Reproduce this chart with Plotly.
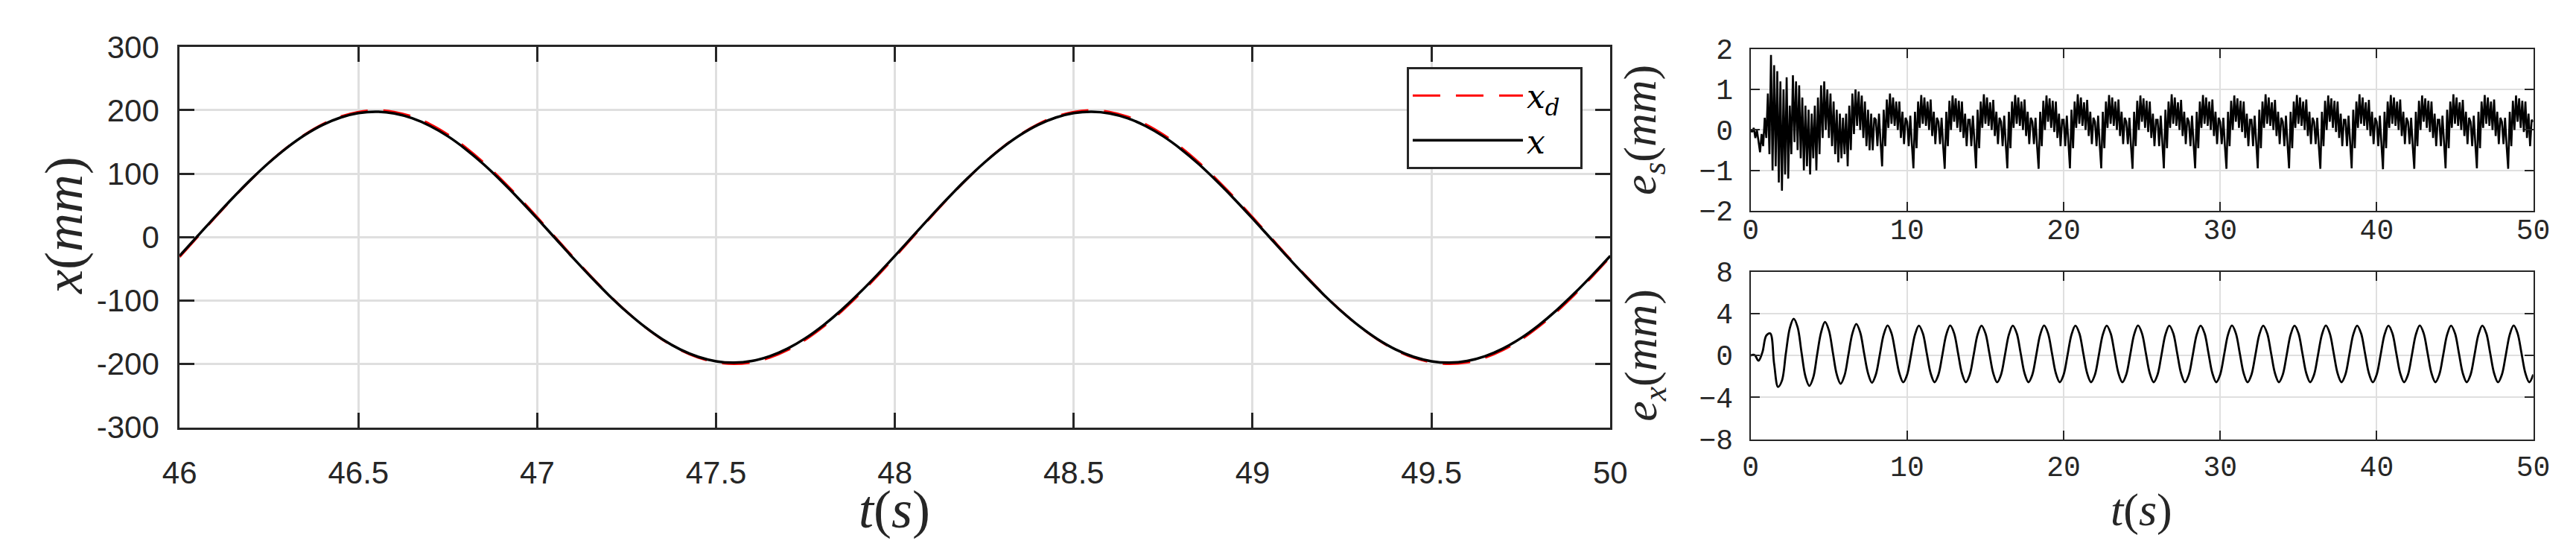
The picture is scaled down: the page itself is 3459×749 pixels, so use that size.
import plotly.graph_objects as go

# ---------------- data ----------------
# main panel: samples every 0.05 s from t = 46 s to t = 50 s
main_t0 = 46.0
main_dt = 0.05
xd_vals = [
    -31.3, 0.0, 31.3, 61.8, 90.8, 117.6, 141.4, 161.8, 178.2, 190.2, 197.5, 200.0, 197.5, 190.2,
    178.2, 161.8, 141.4, 117.6, 90.8, 61.8, 31.3, 0.0, -31.3, -61.8, -90.8, -117.6, -141.4, -161.8,
    -178.2, -190.2, -197.5, -200.0, -197.5, -190.2, -178.2, -161.8, -141.4, -117.6, -90.8, -61.8, -31.3,
    0.0, 31.3, 61.8, 90.8, 117.6, 141.4, 161.8, 178.2, 190.2, 197.5, 200.0, 197.5, 190.2,
    178.2, 161.8, 141.4, 117.6, 90.8, 61.8, 31.3, 0.0, -31.3, -61.8, -90.8, -117.6, -141.4, -161.8,
    -178.2, -190.2, -197.5, -200.0, -197.5, -190.2, -178.2, -161.8, -141.4, -117.6, -90.8, -61.8, -31.3,
]
x_vals = [
    -29.5, 1.5, 32.5, 62.6, 91.2, 117.5, 140.9, 160.9, 176.9, 188.5, 195.5, 197.7, 195.0, 187.5,
    175.4, 159.0, 138.6, 114.9, 88.2, 59.4, 29.2, -1.8, -32.8, -62.9, -91.5, -117.8, -141.2, -161.2,
    -177.2, -188.8, -195.8, -198.0, -195.3, -187.8, -175.7, -159.3, -138.9, -115.2, -88.5, -59.7, -29.5,
    1.5, 32.5, 62.6, 91.2, 117.5, 140.9, 160.9, 176.9, 188.5, 195.5, 197.7, 195.0, 187.5,
    175.4, 159.0, 138.6, 114.9, 88.2, 59.4, 29.2, -1.8, -32.8, -62.9, -91.5, -117.8, -141.2, -161.2,
    -177.2, -188.8, -195.8, -198.0, -195.3, -187.8, -175.7, -159.3, -138.9, -115.2, -88.5, -59.7, -29.5,
]

# e_s panel: samples every 0.1 s from 0 to 50 s
es_t0 = 0.0
es_dt = 0.1
es_vals = [
    0.0, -0.05, 0.05, -0.2, 0.0, -0.3, -0.55, -0.1, -0.4, 0.3, -0.2, 0.9, -0.6, 1.85, -1.0, 1.6, -0.9, 1.45, -1.3, 1.2,
    -1.5, 1.0, -1.1, 1.3, -1.2, 0.6, -0.6, 1.35, -0.3, 1.2, -0.5, 1.1, -0.7, 0.8, -1.0, 0.6, -0.9, 0.5, -1.1, 0.4,
    -0.7, 0.6, -1.0, 0.8, -0.6, 1.1, -0.2, 1.2, 0.0, 1.0, -0.2, 0.9, -0.4, 0.7, -0.6, 0.5, -0.8, 0.4, -0.7, 0.3,
    -0.6, 0.4, -0.9, 0.6, -0.5, 0.9, -0.1, 1.0, 0.1, 0.95, 0.0, 0.85, -0.2, 0.7, -0.4, 0.5, -0.5, 0.4, -0.5, 0.3,
    0.25, -0.4, 0.4, -0.3, -0.9, 0.5, -0.4, 0.75, 0.05, 0.9, 0.15, 0.8, 0.1, 0.7, 0.0, 0.7, -0.2, 0.45, -0.35, 0.3,
    0.2, -0.4, 0.35, -0.35, -0.95, 0.45, -0.45, 0.7, 0.05, 0.86, 0.15, 0.8, 0.1, 0.7, 0.0, 0.75, -0.15, 0.45, -0.35, 0.3,
    0.2, -0.35, 0.3, -0.4, -0.96, 0.45, -0.4, 0.72, 0.0, 0.85, 0.2, 0.78, 0.05, 0.72, -0.05, 0.7, -0.2, 0.4, -0.4, 0.25,
    0.25, -0.4, 0.35, -0.3, -0.95, 0.5, -0.45, 0.7, 0.05, 0.88, 0.15, 0.8, 0.1, 0.68, 0.0, 0.74, -0.15, 0.45, -0.35, 0.3,
    0.2, -0.4, 0.35, -0.35, -0.95, 0.45, -0.45, 0.7, 0.05, 0.86, 0.15, 0.8, 0.1, 0.7, 0.0, 0.75, -0.15, 0.45, -0.35, 0.3,
    0.2, -0.35, 0.3, -0.4, -0.96, 0.45, -0.4, 0.72, 0.0, 0.85, 0.2, 0.78, 0.05, 0.72, -0.05, 0.7, -0.2, 0.4, -0.4, 0.25,
    0.25, -0.4, 0.35, -0.3, -0.95, 0.5, -0.45, 0.7, 0.05, 0.88, 0.15, 0.8, 0.1, 0.68, 0.0, 0.74, -0.15, 0.45, -0.35, 0.3,
    0.2, -0.4, 0.35, -0.35, -0.95, 0.45, -0.45, 0.7, 0.05, 0.86, 0.15, 0.8, 0.1, 0.7, 0.0, 0.75, -0.15, 0.45, -0.35, 0.3,
    0.2, -0.35, 0.3, -0.4, -0.96, 0.45, -0.4, 0.72, 0.0, 0.85, 0.2, 0.78, 0.05, 0.72, -0.05, 0.7, -0.2, 0.4, -0.4, 0.25,
    0.25, -0.4, 0.35, -0.3, -0.95, 0.5, -0.45, 0.7, 0.05, 0.88, 0.15, 0.8, 0.1, 0.68, 0.0, 0.74, -0.15, 0.45, -0.35, 0.3,
    0.2, -0.4, 0.35, -0.35, -0.95, 0.45, -0.45, 0.7, 0.05, 0.86, 0.15, 0.8, 0.1, 0.7, 0.0, 0.75, -0.15, 0.45, -0.35, 0.3,
    0.2, -0.35, 0.3, -0.4, -0.96, 0.45, -0.4, 0.72, 0.0, 0.85, 0.2, 0.78, 0.05, 0.72, -0.05, 0.7, -0.2, 0.4, -0.4, 0.25,
    0.25, -0.4, 0.35, -0.3, -0.95, 0.5, -0.45, 0.7, 0.05, 0.88, 0.15, 0.8, 0.1, 0.68, 0.0, 0.74, -0.15, 0.45, -0.35, 0.3,
    0.2, -0.4, 0.35, -0.35, -0.95, 0.45, -0.45, 0.7, 0.05, 0.86, 0.15, 0.8, 0.1, 0.7, 0.0, 0.75, -0.15, 0.45, -0.35, 0.3,
    0.2, -0.35, 0.3, -0.4, -0.96, 0.45, -0.4, 0.72, 0.0, 0.85, 0.2, 0.78, 0.05, 0.72, -0.05, 0.7, -0.2, 0.4, -0.4, 0.25,
    0.25, -0.4, 0.35, -0.3, -0.95, 0.5, -0.45, 0.7, 0.05, 0.88, 0.15, 0.8, 0.1, 0.68, 0.0, 0.74, -0.15, 0.45, -0.35, 0.3,
    0.2, -0.4, 0.35, -0.35, -0.97, 0.45, -0.45, 0.7, 0.05, 0.86, 0.15, 0.8, 0.1, 0.7, 0.0, 0.75, -0.15, 0.45, -0.35, 0.3,
    0.2, -0.35, 0.3, -0.4, -0.96, 0.45, -0.4, 0.72, 0.0, 0.85, 0.2, 0.78, 0.05, 0.72, -0.05, 0.7, -0.2, 0.4, -0.4, 0.25,
    0.25, -0.4, 0.35, -0.3, -0.95, 0.5, -0.45, 0.7, 0.05, 0.88, 0.15, 0.8, 0.1, 0.68, 0.0, 0.74, -0.15, 0.45, -0.35, 0.3,
    0.2, -0.4, 0.35, -0.35, -0.95, 0.45, -0.45, 0.7, 0.05, 0.86, 0.15, 0.8, 0.1, 0.7, 0.0, 0.75, -0.15, 0.45, -0.35, 0.3,
    0.2, -0.35, 0.3, -0.4, -0.96, 0.45, -0.4, 0.72, 0.0, 0.85, 0.2, 0.78, 0.05, 0.72, -0.05, 0.7, -0.2, 0.4, -0.4, 0.25,
    0.2,
]

# e_x panel: samples every 0.25 s from 0 to 50 s
ex_t0 = 0.0
ex_dt = 0.25
ex_vals = [
    0.0, 0.05, -0.5, 0.3, 1.9, 2.1, -0.8, -3.0,
    -2.4, 0.2, 2.6, 3.5, 2.7, 0.3, -2.0, -2.9,
    -2.1, 0.1, 2.2, 3.2, 2.4, 0.3, -1.8, -2.7,
    -1.9, 0.1, 2.1, 3.0, 2.2, 0.2, -1.7, -2.6,
    -1.82, 0.07, 1.99, 2.87, 2.12, 0.23, -1.70, -2.56,
    -1.82, 0.07, 1.99, 2.85, 2.12, 0.23, -1.70, -2.55,
    -1.82, 0.07, 1.99, 2.86, 2.12, 0.23, -1.70, -2.55,
    -1.82, 0.07, 1.99, 2.85, 2.12, 0.23, -1.70, -2.56,
    -1.82, 0.07, 1.99, 2.85, 2.12, 0.23, -1.70, -2.55,
    -1.82, 0.07, 1.99, 2.86, 2.12, 0.23, -1.70, -2.55,
    -1.82, 0.07, 1.99, 2.85, 2.12, 0.23, -1.70, -2.55,
    -1.82, 0.07, 1.99, 2.85, 2.12, 0.23, -1.70, -2.56,
    -1.82, 0.07, 1.99, 2.86, 2.12, 0.23, -1.70, -2.55,
    -1.82, 0.07, 1.99, 2.85, 2.12, 0.23, -1.70, -2.55,
    -1.82, 0.07, 1.99, 2.85, 2.12, 0.23, -1.70, -2.55,
    -1.82, 0.07, 1.99, 2.86, 2.12, 0.23, -1.70, -2.56,
    -1.82, 0.07, 1.99, 2.85, 2.12, 0.23, -1.70, -2.55,
    -1.82, 0.07, 1.99, 2.85, 2.12, 0.23, -1.70, -2.55,
    -1.82, 0.07, 1.99, 2.86, 2.12, 0.23, -1.70, -2.55,
    -1.82, 0.07, 1.99, 2.85, 2.12, 0.23, -1.70, -2.56,
    -1.82, 0.07, 1.99, 2.85, 2.12, 0.23, -1.70, -2.55,
    -1.82, 0.07, 1.99, 2.86, 2.12, 0.23, -1.70, -2.55,
    -1.82, 0.07, 1.99, 2.85, 2.12, 0.23, -1.70, -2.55,
    -1.82, 0.07, 1.99, 2.85, 2.12, 0.23, -1.70, -2.56,
    -1.82, 0.07, 1.99, 2.86, 2.12, 0.23, -1.70, -2.55,
    -1.82,
]

# ticks
main_xticks = [46, 46.5, 47, 47.5, 48, 48.5, 49, 49.5, 50]
main_xlabels = ["46", "46.5", "47", "47.5", "48", "48.5", "49", "49.5", "50"]
main_yticks = [-300, -200, -100, 0, 100, 200, 300]
main_ylabels = ["-300", "-200", "-100", "0", "100", "200", "300"]
err_xticks = [0, 10, 20, 30, 40, 50]
err_xlabels = ["0", "10", "20", "30", "40", "50"]
es_yticks = [-2, -1, 0, 1, 2]
es_ylabels = ["\u22122", "\u22121", "0", "1", "2"]
ex_yticks = [-8, -4, 0, 4, 8]
ex_ylabels = ["\u22128", "\u22124", "0", "4", "8"]

# ---------------- figure ----------------
W, H = 3459, 749
AX = "#262626"
GRID = "#dfdfdf"

def px_x(v):
    return v / W

def px_y(v):
    return (H - v) / H

fig = go.Figure()
fig.add_trace(go.Scatter(
    y=xd_vals, x0=main_t0, dx=main_dt, mode="lines",
    name="<i>x</i><sub><i>d</i></sub>\u2002",
    line=dict(color="#ff0000", width=3, dash="37px,21px", shape="spline"),
    xaxis="x", yaxis="y"))
fig.add_trace(go.Scatter(
    y=x_vals, x0=main_t0, dx=main_dt, mode="lines",
    name="<i>x</i>",
    line=dict(color="#000000", width=3.5, shape="spline"),
    xaxis="x", yaxis="y"))
fig.add_trace(go.Scatter(
    y=es_vals, x0=es_t0, dx=es_dt, mode="lines", showlegend=False,
    line=dict(color="#000000", width=2.6),
    xaxis="x2", yaxis="y2"))
fig.add_trace(go.Scatter(
    y=ex_vals, x0=ex_t0, dx=ex_dt, mode="lines", showlegend=False,
    line=dict(color="#000000", width=2.8, shape="spline"),
    xaxis="x3", yaxis="y3"))

main_font = dict(family="Liberation Sans, Arial, sans-serif", size=42, color=AX)
err_font = dict(family="Liberation Mono, Courier New, monospace", size=38, color=AX)

def axis(domain, rng, tickvals, ticktext, font, lw, tl, gw, anchor, standoff):
    return dict(
        domain=domain, range=rng, anchor=anchor,
        tickmode="array", tickvals=tickvals, ticktext=ticktext,
        tickfont=font, ticks="inside", ticklen=tl, tickwidth=lw, tickcolor=AX,
        showline=True, linecolor=AX, linewidth=lw, mirror="ticks",
        showgrid=True, gridcolor=GRID, gridwidth=gw, zeroline=False,
        ticklabelstandoff=standoff, fixedrange=True,
    )

main_xd = [px_x(213), px_x(2160)]
main_yd = [px_y(579), px_y(34)]
r_xd = [px_x(2351), px_x(3416)]
top_yd = [px_y(269), px_y(37)]
bot_yd = [px_y(596), px_y(356)]

fig.update_layout(
    width=W, height=H, autosize=False,
    margin=dict(l=0, r=0, t=0, b=0),
    paper_bgcolor="white", plot_bgcolor="white",
    xaxis=axis(main_xd, [46, 50], main_xticks, main_xlabels, main_font, 3, 20, 2.5, "y", 22),
    yaxis=axis(main_yd, [-300, 300], main_yticks, main_ylabels, main_font, 3, 20, 2.5, "x", 16),
    xaxis2=axis(r_xd, [0, 50], err_xticks, err_xlabels, err_font, 2, 12, 2, "y2", -10),
    yaxis2=axis(top_yd, [-2, 2], es_yticks, es_ylabels, err_font, 2, 12, 2, "x2", 14),
    xaxis3=axis(r_xd, [0, 50], err_xticks, err_xlabels, err_font, 2, 12, 2, "y3", 2),
    yaxis3=axis(bot_yd, [-8, 8], ex_yticks, ex_ylabels, err_font, 2, 12, 2, "x3", 14),
    showlegend=True,
    legend=dict(
        x=px_x(1883), y=px_y(63), xanchor="left", yanchor="top",
        bgcolor="white", bordercolor=AX, borderwidth=3,
        font=dict(family="DejaVu Serif, serif", size=44, color="#000000"),
        itemwidth=148, tracegroupgap=0,
    ),
)

title_font_main = dict(family="Liberation Serif, serif", size=72, color=AX)
title_font_err = dict(family="Liberation Serif, serif", size=62, color=AX)
annos = [
    dict(text="<i>x</i>(<i>mm</i>)", x=px_x(56), y=px_y(290), textangle=-90, font=title_font_main),
    dict(text="<i>t</i>(<i>s</i>)", x=px_x(1186), y=px_y(697), font=title_font_main),
    dict(text="<i>e<sub>s</sub></i>(<i>mm</i>)", x=px_x(2205), y=px_y(153), textangle=-90, font=title_font_err),
    dict(text="<i>e<sub>x</sub></i>(<i>mm</i>)", x=px_x(2205), y=px_y(476), textangle=-90, font=title_font_err),
    dict(text="<i>t</i>(<i>s</i>)", x=px_x(2883), y=px_y(697), font=title_font_err),
]
for a in annos:
    fig.add_annotation(xref="paper", yref="paper", showarrow=False,
                       xanchor="center", yanchor="middle", **a)

fig.write_html("out.html")
